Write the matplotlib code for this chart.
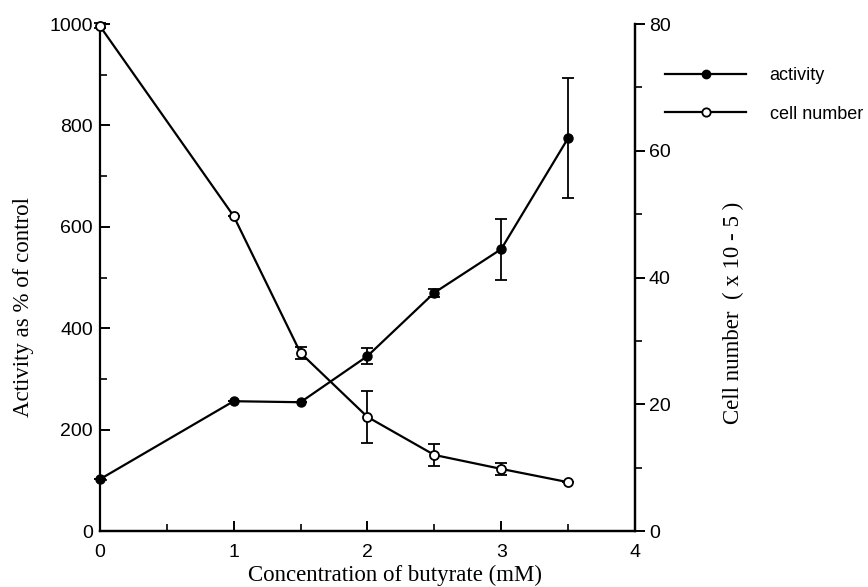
import matplotlib.pyplot as plt
from matplotlib.lines import Line2D
from matplotlib.ticker import MultipleLocator

# butyrate concentration (mM)
conc = [0, 1, 1.5, 2, 2.5, 3, 3.5]

activity = [102, 256, 254, 345, 470, 556, 775]
activity_err = [0, 0, 0, 15, 8, 60, 118]

cell_number = [79.7, 49.7, 28.1, 18.0, 12.0, 9.8, 7.7]
cell_err = [0.4, 0, 1.0, 4.1, 1.7, 0.9, 0]

SANS = ['Liberation Sans', 'DejaVu Sans']
SERIF = ['Liberation Serif', 'DejaVu Serif']

fig = plt.figure(figsize=(8.68, 5.87), dpi=100)
ax = fig.add_axes([0.115, 0.0954, 0.6166, 0.8637])
ax2 = ax.twinx()

ax.errorbar(conc, activity, yerr=activity_err, color='black', lw=1.6,
            marker='o', ms=6.5, mfc='black', mec='black',
            capsize=4, elinewidth=1.3, capthick=1.3, clip_on=False)
ax2.errorbar(conc, cell_number, yerr=cell_err, color='black', lw=1.6,
             marker='o', ms=6.5, mfc='white', mec='black', mew=1.3,
             capsize=4, elinewidth=1.3, capthick=1.3, clip_on=False)

ax.set_xlim(0, 4)
ax.set_ylim(0, 1000)
ax2.set_ylim(0, 80)

ax.xaxis.set_major_locator(MultipleLocator(1))
ax.xaxis.set_minor_locator(MultipleLocator(0.5))
ax.yaxis.set_major_locator(MultipleLocator(200))
ax.yaxis.set_minor_locator(MultipleLocator(100))
ax2.yaxis.set_major_locator(MultipleLocator(20))
ax2.yaxis.set_minor_locator(MultipleLocator(10))

for a in (ax, ax2):
    a.spines['top'].set_visible(False)
    for s in a.spines.values():
        s.set_linewidth(1.6)

ax.tick_params(axis='both', which='major', direction='in', length=7, width=1.4,
               labelsize=14, pad=5)
ax.tick_params(axis='both', which='minor', direction='in', length=5, width=1.2)
ax.tick_params(axis='x', pad=9)
ax2.tick_params(axis='y', which='major', direction='out', length=7, width=1.4,
                labelsize=14, pad=3)
ax2.tick_params(axis='y', which='minor', direction='out', length=5, width=1.2)
ax2.spines['left'].set_visible(False)

for lab in ax.get_xticklabels() + ax.get_yticklabels() + ax2.get_yticklabels():
    lab.set_family(SANS)

ax.set_xlabel('Concentration of butyrate (mM)', family=SERIF, fontsize=16.5)
ax.xaxis.set_label_coords(0.551, -0.066)
ax.set_ylabel('Activity as % of control', family=SERIF, fontsize=16.5)
ax.yaxis.set_label_coords(-0.123, 0.442)
ax2.set_ylabel('Cell number  ( x 10 - 5 )', family=SERIF, fontsize=16.5)
ax2.yaxis.set_label_coords(1.164, 0.43)

handles = [
    Line2D([], [], color='black', lw=1.6, marker='o', ms=6, mfc='black', mec='black'),
    Line2D([], [], color='black', lw=1.6, marker='o', ms=6, mfc='white', mec='black', mew=1.3),
]
fig.legend(handles=handles, labels=['activity', 'cell number'], loc='upper left',
           bbox_to_anchor=(665 / 868, 1 - 67 / 587), frameon=False,
           borderpad=0, borderaxespad=0, handlelength=4.5, handletextpad=1.3,
           labelspacing=1.2, prop={'family': SANS, 'size': 13})

fig.savefig('out.png', dpi=100)
